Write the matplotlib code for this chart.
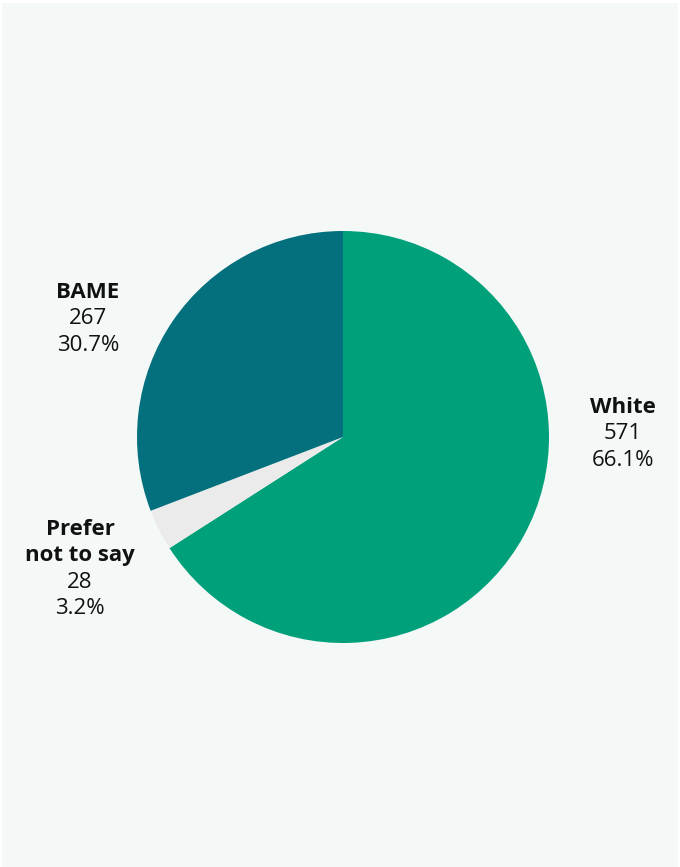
import matplotlib
matplotlib.use("Agg")
from matplotlib import pyplot as plt
from matplotlib.patches import Rectangle

groups = ["White", "Prefer\nnot to say", "BAME"]
counts = [571, 28, 267]
shares = ["66.1%", "3.2%", "30.7%"]
colors = ["#00a07a", "#ebebeb", "#04707d"]

# label anchor (centre of label block, data units where pie radius = 1)
label_pos = [(1.359, 0.015), (-1.277, -0.641), (-1.238, 0.573)]

plt.rcParams['font.family'] = ['Open Sans', 'DejaVu Sans']

fig = plt.figure(figsize=(6.8, 8.67), dpi=100, facecolor="white")
fig.patches.append(Rectangle((2 / 680, 0), 676 / 680, 864 / 867, transform=fig.transFigure,
                             facecolor="#f4f8f7", edgecolor="none", zorder=-10))

ax = fig.add_axes([0, 0, 1, 1], zorder=1)
ax.set_facecolor("none")
ax.pie(counts, colors=colors, startangle=90, counterclock=False, radius=1.0,
       wedgeprops=dict(linewidth=0))
scale = 206.0
ax.set_xlim(-343 / scale, (680 - 343) / scale)
ax.set_ylim(-(867 - 437) / scale, 437 / scale)
ax.set_aspect("equal")
ax.axis("off")

step = 26.5 / scale
for name, n, pct, (x, y) in zip(groups, counts, shares, label_pos):
    lines = name.split("\n")
    rows = [(l, "bold") for l in lines] + [(str(n), "normal"), (pct, "normal")]
    top = y + step * (len(rows) - 1) / 2
    for i, (txt, w) in enumerate(rows):
        ax.text(x, top - i * step, txt, ha="center", va="center", fontsize=16,
                fontweight=w, color="#111111")

fig.savefig("out.png", dpi=100, facecolor=fig.get_facecolor())
